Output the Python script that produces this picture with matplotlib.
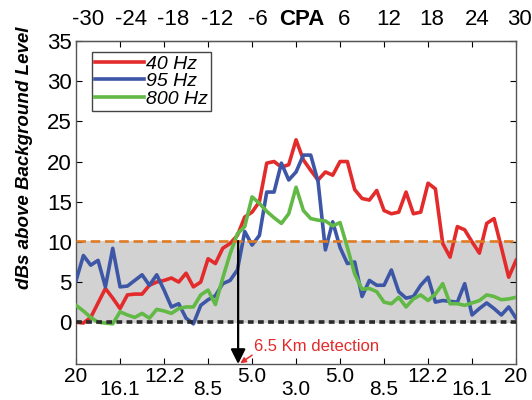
import numpy as np
import matplotlib
matplotlib.use("Agg")
import matplotlib.pyplot as plt
from matplotlib.transforms import ScaledTranslation

plt.rcParams['font.family'] = ['Liberation Sans', 'DejaVu Sans']

# minutes relative to CPA
minutes = np.arange(-30, 31, 1)

hz40 = [0.0, -0.1, 0.6, 2.4, 4.2, 3.0, 1.7, 3.4, 3.5, 3.5, 4.6, 5.0, 5.2, 5.5, 5.0, 6.1,
        4.4, 5.0, 7.9, 7.3, 9.2, 9.8, 10.8, 13.1, 13.7, 15.0, 19.8, 20.0, 19.3, 19.6,
        22.7, 20.2, 18.9, 17.7, 18.7, 18.3, 20.0, 20.0, 16.5, 15.4, 15.2, 16.4, 13.9,
        13.5, 13.7, 16.2, 13.5, 13.7, 17.3, 16.6, 9.8, 8.1, 11.9, 11.5, 10.0, 8.6,
        12.3, 12.9, 9.3, 5.6, 7.7]
hz95 = [5.2, 8.3, 7.1, 7.7, 4.4, 9.2, 4.4, 4.5, 5.2, 5.9, 4.6, 5.9, 4.0, 1.9, 2.3, 0.5,
        -0.2, 2.1, 2.8, 3.3, 4.8, 5.2, 6.5, 11.3, 9.6, 10.8, 16.2, 16.2, 19.8, 17.7,
        18.7, 20.8, 20.8, 17.5, 9.0, 12.5, 9.3, 7.3, 7.5, 3.2, 5.2, 4.6, 4.6, 6.5, 3.8,
        3.0, 3.2, 4.6, 5.6, 2.5, 2.7, 2.6, 2.5, 4.8, 0.9, 1.7, 2.4, 1.7, 0.9, 1.9, 0.5]
hz800 = [2.1, 1.4, 0.6, 0.0, -0.1, -0.2, 1.3, 0.9, 0.6, 1.1, 0.5, 1.6, 1.4, 1.1, 1.7,
         1.9, 1.9, 3.4, 4.0, 2.2, 5.5, 8.5, 11.0, 11.9, 15.6, 14.8, 13.8, 13.0, 12.3,
         13.5, 16.8, 13.9, 12.9, 12.7, 12.6, 12.0, 12.4, 9.3, 6.0, 4.1, 4.2, 3.8, 2.5,
         2.3, 3.1, 1.9, 2.9, 3.4, 2.7, 3.5, 4.8, 2.3, 2.3, 2.1, 2.4, 2.7, 3.4, 3.2,
         2.8, 2.9, 3.1]

threshold = 10.1
detect_min = -7.9

top_ticks = [-30, -24, -18, -12, -6, 0, 6, 12, 18, 24, 30]
top_labels = ['-30', '-24', '-18', '-12', '-6', 'CPA', '6', '12', '18', '24', '30']
range_labels = ['20', '16.1', '12.2', '8.5', '5.0', '3.0', '5.0', '8.5', '12.2', '16.1', '20']

red = '#e32b2b'
blue = '#3d57a6'
green = '#62b946'

fig = plt.figure(figsize=(5.32, 4.0), dpi=100)
ax = fig.add_axes([0.143, 0.09, 0.827, 0.8075])

# background band and reference lines
ax.axhspan(0, threshold, color='#d2d2d2', zorder=0)
ax.plot(minutes, hz40, color=red, lw=2.6, label='40 Hz', zorder=3)
ax.plot(minutes, hz95, color=blue, lw=2.6, label='95 Hz', zorder=3)
ax.plot(minutes, hz800, color=green, lw=2.6, label='800 Hz', zorder=3)
ax.axhline(threshold, color='#e07b24', lw=1.9, ls=(0, (3.6, 1.8)), zorder=4)
ax.axhline(0, color='#2a2a2a', lw=2.6, ls=(0, (1.6, 1.2)), zorder=4)

ax.set_xlim(-30, 30)
ax.set_ylim(-5.2, 35)
ax.set_yticks(range(0, 36, 5))

# detection arrow
ax.annotate('', xy=(detect_min, -5.2), xytext=(detect_min, threshold),
            arrowprops=dict(arrowstyle='-|>', color='k', lw=1.6, mutation_scale=22,
                            shrinkA=0, shrinkB=0), zorder=5)
ax.annotate('', xy=(-7.6, -5.1), xytext=(-6.0, -4.1),
            arrowprops=dict(arrowstyle='-|>', color=red, lw=1.1, mutation_scale=8,
                            shrinkA=0, shrinkB=0), zorder=5)
ax.text(-5.7, -3.0, '6.5 Km detection', color=red, fontsize=12, va='center', zorder=5)

# bottom axis: range in km, staggered labels
ax.set_xticks(top_ticks)
ax.set_xticklabels(range_labels, fontsize=15)
bottom_shift = [2, -11, 3, 1, 3, 3, 2, 3, 3, 4, 2]
for i, t in enumerate(ax.xaxis.get_major_ticks()):
    t.set_pad(2.5 if i % 2 == 0 else 11.5)
    lab = t.label1
    lab.set_transform(lab.get_transform() +
                      ScaledTranslation(bottom_shift[i] / 100, 0, fig.dpi_scale_trans))

# top axis: minutes
sec = ax.secondary_xaxis('top')
sec.set_xticks(top_ticks)
sec.set_xticklabels(top_labels, fontsize=16)
sec.tick_params(direction='in', length=4, pad=8)
top_shift = [12, 11, 9, 9, 6, 6, 4, 5, 4, 5, 3]
for i, t in enumerate(sec.xaxis.get_major_ticks()):
    lab = t.label2
    lab.set_transform(lab.get_transform() +
                      ScaledTranslation(top_shift[i] / 100, 0, fig.dpi_scale_trans))
sec.xaxis.get_major_ticks()[5].label2.set_fontweight('bold')

ax.tick_params(axis='x', direction='in', length=4)
ax.tick_params(axis='y', direction='in', length=4, right=True, labelsize=16, pad=3)

ax.set_ylabel('dBs above Background Level', fontsize=13.5, fontweight='bold',
              style='italic')
ax.yaxis.set_label_coords(-0.097, 0.638)

for s in ax.spines.values():
    s.set_color('#555555')
    s.set_linewidth(1.0)

leg = ax.legend(loc='upper left', bbox_to_anchor=(0.173, 0.87), bbox_transform=fig.transFigure,
                borderaxespad=0, prop={'style': 'italic', 'size': 14},
                handlelength=2.5, handletextpad=0.15, labelspacing=0.0, borderpad=0.15,
                fancybox=False, framealpha=1, edgecolor='#444444')
leg.get_frame().set_linewidth(1.0)

fig.savefig('out.png', dpi=100)
